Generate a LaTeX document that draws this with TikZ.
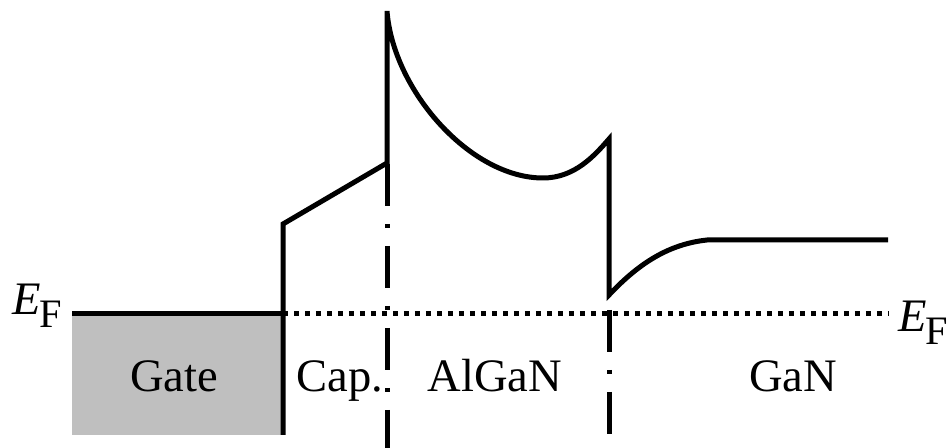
\documentclass[tikz,border=0pt]{standalone}
\usepackage{fontspec}
\setmainfont{Liberation Serif}
\usetikzlibrary{positioning}

\newcommand{\fermi}{\textit{E}\kern-0.03em\raisebox{-7.4pt}{\fontsize{23pt}{23pt}\selectfont F}}

\begin{document}
\begin{tikzpicture}[
    x=0.02cm, y=-0.02cm,
    font=\fontsize{26.5pt}{30pt}\selectfont,
    band/.style={draw=black, line width=0.1cm},
    fermiline/.style={draw=black, line width=0.1cm, dash pattern=on 0.1cm off 0.12cm},
    iface/.style={draw=black, line width=0.1cm, dash pattern=on 0.84cm off 0.36cm on 0.08cm off 0.36cm},
    gatebox/.style={fill=black!25, draw=none},
    layer/.style={anchor=base, inner sep=0pt}
]
    \useasboundingbox[fill=white] (0,0) rectangle (949,448);

    % Band edge points
    \coordinate (gateTL) at (72,314);
    \coordinate (gateBR) at (283,435);
    \coordinate (gateTR) at (283,314);
    \coordinate (capB) at (283,224);
    \coordinate (capT) at (387,163);
    \coordinate (algTop) at (387,11);
    \coordinate (algMin) at (543,178);
    \coordinate (algR) at (609,139);
    \coordinate (ganL) at (609,295);
    \coordinate (ganK) at (707,240);
    \coordinate (ganR) at (888,240);
    \coordinate (efR) at (888,314);

    % Gate metal
    \fill[gatebox] (gateTL) rectangle (gateBR);
    \draw[band] (gateTL) -- (gateTR);

    % Conduction band edge
    \draw[band] (gateBR) -- (capB) -- (capT) -- (algTop)
        .. controls (393,90) and (470,178) .. (algMin)
        .. controls (575,178) and (595,155) .. (algR)
        -- (ganL)
        .. controls (640,262) and (670,244) .. (ganK)
        -- (ganR);

    % Fermi level
    \draw[fermiline] (gateTR) -- (efR);

    % Interfaces
    \coordinate (ifaceA) at (387,164);
    \coordinate (ifaceAb) at (387,452);
    \coordinate (ifaceB) at (609,310);
    \coordinate (ifaceBb) at (609,435);
    \draw[iface] (ifaceA) -- (ifaceAb);
    \draw[iface] (ifaceB) -- (ifaceBb);

    % Labels
    \node[anchor=base west, inner sep=0pt] (efleft) at (12,315) {\fermi};
    \node[anchor=base west, inner sep=0pt] (efright) at (898,332) {\fermi};
    \node[layer] (gate) at (174,392) {Gate};
    \node[layer] (cap) at (340,392) {Cap.};
    \node[layer] (algan) at (495,392) {AlGaN};
    \node[layer] (gan) at (793,392) {GaN};
\end{tikzpicture}
\end{document}
